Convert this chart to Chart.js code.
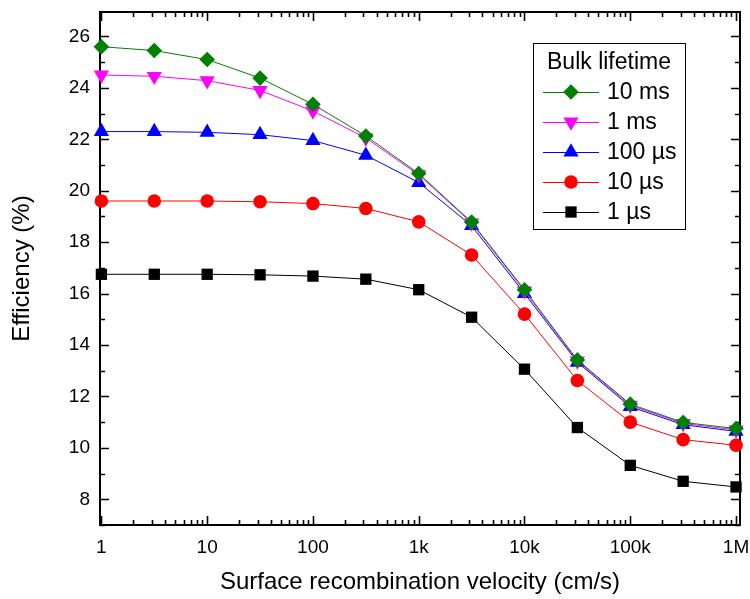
<!DOCTYPE html>
<html>
<head>
<meta charset="utf-8">
<script src="https://cdn.jsdelivr.net/npm/chart.js@4/dist/chart.umd.min.js"></script>
<style>
html,body{margin:0;padding:0;background:#fff;}
#wrap{width:750px;height:599px;}
</style>
</head>
<body>
<div id="wrap"><canvas id="c" width="750" height="599"></canvas></div>
<script>
// ---- data ----
const velocities = [1, 3.162, 10, 31.62, 100, 316.2, 1000, 3162, 10000, 31620, 100000, 316200, 1000000];
const seriesNames = ['10 ms', '1 ms', '100 µs', '10 µs', '1 µs'];
const eff10ms  = [25.60, 25.45, 25.10, 24.38, 23.36, 22.13, 20.67, 18.78, 16.15, 13.42, 11.70, 10.99, 10.75];
const eff1ms   = [24.50, 24.45, 24.28, 23.90, 23.10, 22.05, 20.62, 18.75, 16.10, 13.38, 11.66, 10.95, 10.70];
const eff100us = [22.30, 22.30, 22.27, 22.18, 21.95, 21.38, 20.32, 18.64, 16.00, 13.33, 11.60, 10.90, 10.64];
const eff10us  = [19.60, 19.60, 19.60, 19.57, 19.50, 19.31, 18.79, 17.50, 15.20, 12.62, 11.00, 10.32, 10.10];
const eff1us   = [16.75, 16.75, 16.75, 16.73, 16.68, 16.56, 16.15, 15.08, 13.06, 10.79, 9.32, 8.70, 8.48];
const xTickValues = [1, 10, 100, 1000, 10000, 100000, 1000000];
const xTickLabels = ['1', '10', '100', '1k', '10k', '100k', '1M'];
const yTickValues = [8, 10, 12, 14, 16, 18, 20, 22, 24, 26];

const FONT = "'Liberation Sans', Arial, sans-serif";
const styles = [
  {color:'#008000', pointStyle:'rectRot', radius:7.8, rotation:0},
  {color:'#ff00ff', pointStyle:'triangle', radius:8.8, rotation:180},
  {color:'#0000ff', pointStyle:'triangle', radius:8.8, rotation:0},
  {color:'#ff0000', pointStyle:'circle', radius:6.8, rotation:0},
  {color:'#000000', pointStyle:'rect', radius:8, rotation:0}
];
const allSeries = [eff10ms, eff1ms, eff100us, eff10us, eff1us];

const datasets = allSeries.map((vals, i) => ({
  label: seriesNames[i],
  data: vals.map((v, j) => ({x: velocities[j], y: v})),
  borderColor: styles[i].color,
  backgroundColor: styles[i].color,
  pointBackgroundColor: styles[i].color,
  pointBorderColor: styles[i].color,
  pointBorderWidth: 0,
  borderWidth: 1,
  pointStyle: styles[i].pointStyle,
  pointRadius: styles[i].radius,
  pointHoverRadius: styles[i].radius,
  pointRotation: styles[i].rotation,
  tension: 0,
  showLine: true,
  clip: false
}));

function drawMarker(ctx, st, x, y) {
  ctx.save();
  ctx.fillStyle = st.color;
  ctx.strokeStyle = st.color;
  ctx.lineWidth = 0.01;
  if (Chart.helpers && Chart.helpers.drawPoint) {
    Chart.helpers.drawPoint(ctx, {pointStyle: st.pointStyle, radius: st.radius, rotation: st.rotation, borderWidth: 0}, x, y);
  }
  ctx.restore();
}

function zeroPad(scale) {
  scale.paddingTop = 0; scale.paddingBottom = 0;
  scale.paddingLeft = 0; scale.paddingRight = 0;
}

const frameTicks = {
  id: 'frameTicks',
  beforeDatasetsDraw(chart) {
    const {ctx, chartArea, scales} = chart;
    const {left, right, top, bottom} = chartArea;
    const xs = scales.x, ys = scales.y;
    ctx.save();
    ctx.strokeStyle = '#000';
    ctx.lineWidth = 2;
    ctx.strokeRect(left, top, right - left, bottom - top);
    ctx.lineWidth = 1.6;
    ctx.beginPath();
    for (let d = 0; d <= 6; d++) {
      for (let m = 1; m <= 9; m++) {
        const v = m * Math.pow(10, d);
        if (v > xs.max || v < xs.min) continue;
        const px = Math.round(xs.getPixelForValue(v)) + 0.5;
        const len = m === 1 ? 9 : 5;
        ctx.moveTo(px, bottom); ctx.lineTo(px, bottom - len);
        ctx.moveTo(px, top); ctx.lineTo(px, top + len);
      }
    }
    const ys0 = yTickValues;
    const step = ys0[1] - ys0[0];
    for (let k = 0; k < ys0.length; k++) {
      const vals = [ys0[k], ys0[k] + step / 2, ys0[k] - step / 2];
      vals.forEach((v, idx) => {
        if (idx === 2 && k !== 0) return;
        if (v < ys.min || v > ys.max) return;
        const py = Math.round(ys.getPixelForValue(v)) + 0.5;
        const len = idx === 0 ? 9 : 5;
        ctx.moveTo(left, py); ctx.lineTo(left + len, py);
        ctx.moveTo(right, py); ctx.lineTo(right - len, py);
      });
    }
    ctx.stroke();
    ctx.restore();
  },
  afterDraw(chart) {
    const ctx = chart.ctx;
    ctx.save();
    const bx = 533, by = 43, bw = 152, bh = 186;
    ctx.fillStyle = '#fff';
    ctx.fillRect(bx, by, bw, bh);
    ctx.strokeStyle = '#000';
    ctx.lineWidth = 1;
    ctx.strokeRect(bx + 0.5, by + 0.5, bw, bh);
    ctx.fillStyle = '#000';
    ctx.font = '23px ' + FONT;
    ctx.textBaseline = 'middle';
    ctx.textAlign = 'center';
    ctx.fillText('Bulk lifetime', bx + bw / 2, 63);
    ctx.textAlign = 'left';
    chart.data.datasets.forEach((ds, i) => {
      const y = 92 + i * 30;
      const st = styles[i];
      ctx.strokeStyle = st.color;
      ctx.lineWidth = 1;
      ctx.beginPath();
      ctx.moveTo(543, y + 0.5); ctx.lineTo(599, y + 0.5);
      ctx.stroke();
      drawMarker(ctx, st, 571, y);
      ctx.fillStyle = '#000';
      ctx.fillText(ds.label, 607, y + 1);
    });
    ctx.restore();
  }
};

new Chart(document.getElementById('c'), {
  type: 'scatter',
  data: {datasets},
  plugins: [frameTicks],
  options: {
    responsive: false,
    animation: false,
    devicePixelRatio: 1,
    layout: {padding: {top: 12, right: 10, left: 0, bottom: 0}},
    plugins: {legend: {display: false}, tooltip: {enabled: false}},
    scales: {
      x: {
        type: 'logarithmic',
        min: 0.97,
        max: 1.09e6,
        grid: {display: false, drawTicks: false},
        border: {display: false},
        afterBuildTicks(scale) { scale.ticks = xTickValues.map(v => ({value: v, major: true})); },
        afterFit(scale) { scale.height = 74; zeroPad(scale); },
        ticks: {
          autoSkip: false,
          maxRotation: 0,
          padding: 11,
          color: '#000',
          font: {family: FONT, size: 19},
          callback(value) { const i = xTickValues.indexOf(value); return i >= 0 ? xTickLabels[i] : ''; }
        },
        title: {display: true, text: 'Surface recombination velocity (cm/s)', color: '#000',
          font: {family: FONT, size: 24}, padding: {top: 4, bottom: 2}}
      },
      y: {
        type: 'linear',
        min: 7.0,
        max: 26.95,
        grid: {display: false, drawTicks: false},
        border: {display: false},
        afterBuildTicks(scale) { scale.ticks = yTickValues.map(v => ({value: v})); },
        afterFit(scale) { scale.width = 100; zeroPad(scale); },
        ticks: {
          padding: 10,
          color: '#000',
          font: {family: FONT, size: 19},
          callback(value) { return String(value); }
        },
        title: {display: true, text: 'Efficiency (%)', color: '#000',
          font: {family: FONT, size: 24}, padding: {top: 8, bottom: 0}}
      }
    }
  }
});
</script>
</body>
</html>
